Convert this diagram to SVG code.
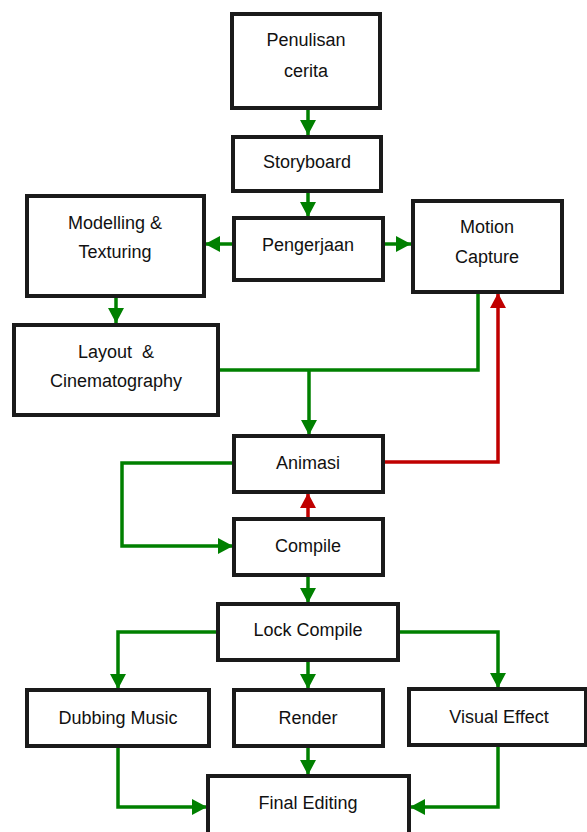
<svg xmlns="http://www.w3.org/2000/svg" width="587" height="832" viewBox="0 0 587 832">
<style>
.box{fill:#fff;stroke:#1a1a1a;stroke-width:4}
.t{font-family:"Liberation Sans",Arial,sans-serif;font-size:18px;fill:#111;text-anchor:middle;dominant-baseline:central}
.g{fill:none;stroke:#008000;stroke-width:3.5}
.r{fill:none;stroke:#c00000;stroke-width:3.5}
</style>
<defs>
<marker id="ag" markerUnits="userSpaceOnUse" markerWidth="16" markerHeight="16" viewBox="0 0 16 16" refX="15" refY="8" orient="auto"><path d="M0,0 L15,8 L0,16 Z" fill="#008000"/></marker>
<marker id="ar" markerUnits="userSpaceOnUse" markerWidth="16" markerHeight="16" viewBox="0 0 16 16" refX="15" refY="8" orient="auto"><path d="M0,0 L15,8 L0,16 Z" fill="#c00000"/></marker>
</defs>
<g id="connectors">
<path class="g" d="M308,108 V135" marker-end="url(#ag)"/>
<path class="g" d="M308,191 V217" marker-end="url(#ag)"/>
<path class="g" d="M233,244 H205" marker-end="url(#ag)"/>
<path class="g" d="M383,244 H411" marker-end="url(#ag)"/>
<path class="g" d="M116,296 V323" marker-end="url(#ag)"/>
<path class="g" d="M218,370 H478 V292"/>
<path class="g" d="M309,370 V435" marker-end="url(#ag)"/>
<path class="r" d="M383,462 H498 V293" marker-end="url(#ar)"/>
<path class="r" d="M308,519 V493" marker-end="url(#ar)"/>
<path class="g" d="M234,463 H122 V546 H233" marker-end="url(#ag)"/>
<path class="g" d="M308,575 V603" marker-end="url(#ag)"/>
<path class="g" d="M218,632 H118 V689" marker-end="url(#ag)"/>
<path class="g" d="M308,660 V689" marker-end="url(#ag)"/>
<path class="g" d="M398,632 H498 V688" marker-end="url(#ag)"/>
<path class="g" d="M118,747 V807 H207" marker-end="url(#ag)"/>
<path class="g" d="M308,746 V775" marker-end="url(#ag)"/>
<path class="g" d="M498,745 V807 H410" marker-end="url(#ag)"/>
</g>
<g id="penulisan"><rect class="box" x="232" y="14" width="148" height="94"/><text class="t" x="306" y="40">Penulisan</text><text class="t" x="306" y="71">cerita</text></g>
<g id="storyboard"><rect class="box" x="233" y="137" width="148" height="54"/><text class="t" x="307" y="162">Storyboard</text></g>
<g id="pengerjaan"><rect class="box" x="234" y="218" width="149" height="62"/><text class="t" x="308" y="245">Pengerjaan</text></g>
<g id="modelling"><rect class="box" x="27" y="196" width="177" height="100"/><text class="t" x="115" y="223">Modelling &amp;</text><text class="t" x="115" y="252">Texturing</text></g>
<g id="motion"><rect class="box" x="413" y="201" width="149" height="91"/><text class="t" x="487" y="227">Motion</text><text class="t" x="487" y="257">Capture</text></g>
<g id="layout"><rect class="box" x="14" y="325" width="204" height="90"/><text class="t" x="116" y="352" xml:space="preserve">Layout  &amp;</text><text class="t" x="116" y="381">Cinematography</text></g>
<g id="animasi"><rect class="box" x="234" y="436" width="149" height="56"/><text class="t" x="308" y="463">Animasi</text></g>
<g id="compile"><rect class="box" x="234" y="519" width="149" height="56"/><text class="t" x="308" y="546">Compile</text></g>
<g id="lockcompile"><rect class="box" x="218" y="604" width="180" height="56"/><text class="t" x="308" y="630">Lock Compile</text></g>
<g id="dubbing"><rect class="box" x="27" y="690" width="182" height="56"/><text class="t" x="118" y="718">Dubbing Music</text></g>
<g id="render"><rect class="box" x="234" y="690" width="149" height="56"/><text class="t" x="308" y="718">Render</text></g>
<g id="visual"><rect class="box" x="409" y="689" width="177" height="56"/><text class="t" x="499" y="717">Visual Effect</text></g>
<g id="final"><rect class="box" x="208" y="776" width="201" height="60"/><text class="t" x="308" y="803">Final Editing</text></g>
</svg>
